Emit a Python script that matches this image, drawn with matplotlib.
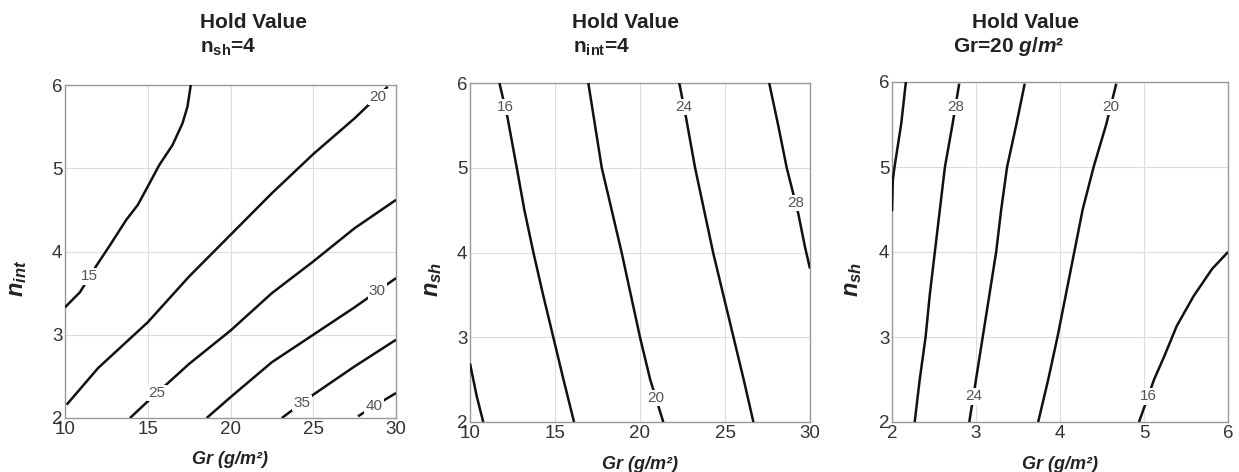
import numpy as np
import matplotlib
matplotlib.use('Agg')
import matplotlib.pyplot as plt

# contour lines, one list of x and one of y per level

# panel 1: n_sh held at 4, Gr vs n_int
p1_levels = [15, 20, 25, 30, 35, 40]
p1_x = [
	[10.0, 10.9, 11.9, 12.7, 13.7, 14.4, 15.0, 15.7, 16.5, 17.1, 17.4, 17.6],
	[10.1, 12.0, 15.0, 17.5, 19.0, 20.0, 22.5, 25.0, 27.5, 29.5],
	[13.93, 15.0, 17.5, 20.0, 22.5, 25.0, 27.5, 30.0],
	[18.56, 20.0, 22.5, 25.0, 27.5, 30.0],
	[23.1, 25.0, 27.5, 30.0],
	[27.7, 28.5, 30.0],
]
p1_y = [
	[3.33, 3.51, 3.83, 4.07, 4.38, 4.56, 4.78, 5.04, 5.28, 5.54, 5.74, 6.0],
	[2.16, 2.6, 3.15, 3.7, 4.0, 4.2, 4.7, 5.17, 5.6, 5.98],
	[2.0, 2.2, 2.65, 3.05, 3.5, 3.88, 4.28, 4.62],
	[2.0, 2.25, 2.67, 3.0, 3.33, 3.68],
	[2.0, 2.28, 2.62, 2.94],
	[2.02, 2.12, 2.3],
]
p1_label_y = [3.7, 5.86, 2.3, 3.52, 2.18, 2.14]

# panel 2: n_int held at 4, Gr vs n_sh
p2_levels = [12, 16, 20, 24, 28]
p2_x = [
	[10.0, 10.4, 10.78],
	[11.73, 12.2, 12.75, 13.2, 13.73, 14.3, 14.9, 15.5, 16.12],
	[16.96, 17.75, 18.92, 20.0, 20.6, 21.37],
	[22.31, 22.7, 23.24, 24.3, 25.5, 26.1, 26.67],
	[27.6, 28.14, 28.63, 29.31, 29.7, 30.0],
]
p2_y = [
	[2.69, 2.3, 2.0],
	[6.0, 5.6, 5.0, 4.5, 4.0, 3.5, 3.0, 2.5, 2.0],
	[6.0, 5.0, 4.0, 3.0, 2.5, 2.0],
	[6.0, 5.6, 5.0, 4.0, 3.0, 2.5, 2.0],
	[6.0, 5.49, 5.0, 4.46, 4.07, 3.81],
]
p2_label_y = [None, 5.72, 2.28, 5.72, 4.58]

# panel 3: Gr held at 20, x axis 2..6 vs n_sh
p3_levels = [32, 28, 24, 20, 16]
p3_x = [
	[2.165, 2.11, 2.03, 2.01, 2.0],
	[2.80, 2.72, 2.63, 2.57, 2.51, 2.45, 2.40, 2.33, 2.27],
	[3.58, 3.48, 3.37, 3.30, 3.24, 3.16, 3.08, 3.0, 2.92],
	[4.67, 4.55, 4.40, 4.27, 4.17, 4.07, 3.97, 3.86, 3.74],
	[4.94, 5.02, 5.12, 5.24, 5.39, 5.59, 5.81, 6.0],
]
p3_y = [
	[6.0, 5.51, 5.0, 4.85, 4.48],
	[5.98, 5.5, 5.0, 4.5, 4.0, 3.5, 3.0, 2.5, 2.0],
	[5.98, 5.5, 5.0, 4.5, 4.0, 3.5, 3.0, 2.5, 2.0],
	[5.98, 5.5, 5.0, 4.5, 4.0, 3.5, 3.0, 2.5, 2.0],
	[2.0, 2.22, 2.5, 2.77, 3.13, 3.48, 3.8, 4.0],
]
p3_label_y = [None, 5.71, 2.3, 5.71, 2.3]

xlims = [(10, 30), (10, 30), (2, 6)]
xticks = [[10, 15, 20, 25, 30], [10, 15, 20, 25, 30], [2, 3, 4, 5, 6]]
yticks = [2, 3, 4, 5, 6]
ylabels = [r'$n_{int}$', r'$n_{sh}$', r'$n_{sh}$']
subtitles = [r'n$_{\mathrm{sh}}$=4', r'n$_{\mathrm{int}}$=4', r'Gr=20 $g/m²$']


def draw_panel(ax, levels, xs, ys, label_ys):
	for lev, x, y, ly in zip(levels, xs, ys, label_ys):
		ax.plot(x, y, color='#111111', lw=1.8, zorder=3,
			solid_capstyle='butt', solid_joinstyle='round')
		if ly is None:
			continue
		# put the label on the line at the given height
		order = np.argsort(y)
		lx = np.interp(ly, np.array(y)[order], np.array(x)[order])
		ax.text(lx, ly, str(lev), fontsize=11, color='#555555',
			ha='center', va='center', zorder=4,
			bbox=dict(facecolor='white', edgecolor='none', pad=0.8))


def main():
	plt.rcParams['font.family'] = ['Liberation Sans', 'DejaVu Sans']
	plt.rcParams['mathtext.fontset'] = 'custom'
	plt.rcParams['mathtext.rm'] = 'Liberation Sans:bold'
	plt.rcParams['mathtext.bf'] = 'Liberation Sans:bold'
	plt.rcParams['mathtext.it'] = 'Liberation Sans:bold:italic'

	dpi = 100
	W, H = 1239, 472
	fig = plt.figure(figsize=(W / dpi, H / dpi), dpi=dpi)

	# axes boxes in pixels: left, top, right, bottom
	boxes = [(65, 85, 396, 418), (470, 83, 810, 422), (892, 82, 1228, 422)]
	title_x = [200, 572, 972]
	sub_x = [200, 573, 953]
	ylab_x = [-0.142, -0.109, -0.116]

	panels = [
		(p1_levels, p1_x, p1_y, p1_label_y),
		(p2_levels, p2_x, p2_y, p2_label_y),
		(p3_levels, p3_x, p3_y, p3_label_y),
	]

	for i, (l, t, r, b) in enumerate(boxes):
		ax = fig.add_axes([l / W, 1 - b / H, (r - l) / W, (b - t) / H])
		draw_panel(ax, *panels[i])

		ax.set_xlim(*xlims[i])
		ax.set_ylim(2, 6)
		ax.set_xticks(xticks[i])
		ax.set_yticks(yticks)
		ax.grid(True, color='#dddddd', lw=0.8, zorder=0)
		ax.set_axisbelow(True)
		ax.tick_params(length=0, labelsize=13.5, labelcolor='#333333', pad=2)
		for sp in ax.spines.values():
			sp.set_color('#999999')
			sp.set_linewidth(1.0)

		ax.set_xlabel('Gr (g/m²)', fontsize=13, fontweight='bold',
			fontstyle='italic', color='#222222')
		ax.xaxis.set_label_coords(0.5, -0.1)
		ax.set_ylabel(ylabels[i], fontsize=17, color='#222222', va='center')
		ax.yaxis.set_label_coords(ylab_x[i], 0.42)

		fig.text(title_x[i] / W, 1 - 23 / H, 'Hold Value', fontsize=15,
			fontweight='bold', color='#222222', ha='left', va='center')
		fig.text(sub_x[i] / W, 1 - 47 / H, subtitles[i], fontsize=15,
			fontweight='bold', color='#222222', ha='left', va='center')

	fig.savefig('out.png', dpi=dpi)
	plt.close(fig)


if __name__ == '__main__':
	main()
